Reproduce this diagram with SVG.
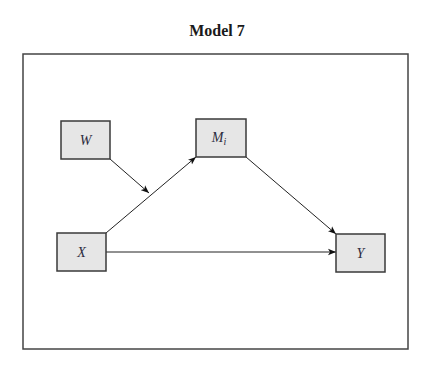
<svg xmlns="http://www.w3.org/2000/svg" width="429" height="371" viewBox="0 0 429 371">
<style>
.box{fill:#e6e6e6;stroke:#3a3a3a;stroke-width:1.5}
.lbl{font-family:"Liberation Serif",serif;font-style:italic;font-size:14px;fill:#2b2b3d;text-anchor:middle}
.edge{stroke:#222;stroke-width:1;fill:none;marker-end:url(#ah)}
</style>
<defs>
<marker id="ah" viewBox="0 0 10 10" refX="10" refY="5" markerWidth="8" markerHeight="8" markerUnits="userSpaceOnUse" orient="auto">
<path d="M0,1 L10,5 L0,9 L2.5,5 z" fill="#111"/>
</marker>
</defs>
<rect width="429" height="371" fill="#fff"/>
<text x="217" y="36" font-family="Liberation Serif,serif" font-weight="bold" font-size="16" text-anchor="middle" fill="#1a1a1a">Model 7</text>
<rect x="23" y="54" width="385" height="295" fill="none" stroke="#444" stroke-width="1.5"/>
<g id="connectors">
<line class="edge" x1="110" y1="159" x2="149" y2="193"/>
<line class="edge" x1="106" y1="233" x2="196" y2="157"/>
<line class="edge" x1="246" y1="157" x2="336" y2="234"/>
<line class="edge" x1="106" y1="252" x2="336" y2="252"/>
</g>
<g id="W"><rect class="box" x="61" y="121" width="49" height="38"/><text class="lbl" x="85.5" y="145">W</text></g>
<g id="M"><rect class="box" x="196" y="119" width="50" height="38"/><text class="lbl" x="219" y="142">M<tspan font-size="10" dy="3">i</tspan></text></g>
<g id="X"><rect class="box" x="57" y="233" width="49" height="38"/><text class="lbl" x="81.5" y="257">X</text></g>
<g id="Y"><rect class="box" x="336" y="234" width="49" height="38"/><text class="lbl" x="360.5" y="258">Y</text></g>
</svg>
